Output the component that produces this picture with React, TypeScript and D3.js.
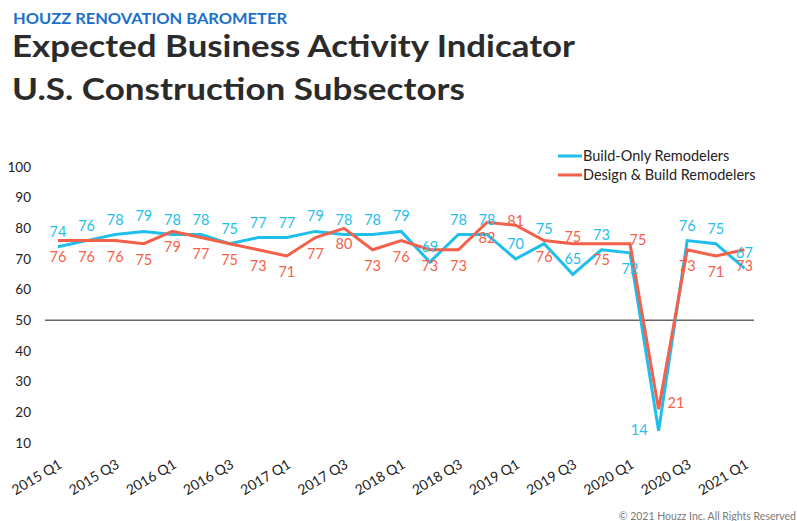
import React from "react";
import * as d3 from "d3";

const quarters = [
  "2015 Q1", "2015 Q2", "2015 Q3", "2015 Q4",
  "2016 Q1", "2016 Q2", "2016 Q3", "2016 Q4",
  "2017 Q1", "2017 Q2", "2017 Q3", "2017 Q4",
  "2018 Q1", "2018 Q2", "2018 Q3", "2018 Q4",
  "2019 Q1", "2019 Q2", "2019 Q3", "2019 Q4",
  "2020 Q1", "2020 Q2", "2020 Q3", "2020 Q4",
  "2021 Q1",
];
const buildOnly = [74, 76, 78, 79, 78, 78, 75, 77, 77, 79, 78, 78, 79, 69, 78, 78, 70, 75, 65, 73, 72, 14, 76, 75, 67];
const designBuild = [76, 76, 76, 75, 79, 77, 75, 73, 71, 77, 80, 73, 76, 73, 73, 82, 81, 76, 75, 75, 75, 21, 73, 71, 73];
const yTicks = [10, 20, 30, 40, 50, 60, 70, 80, 90, 100];
const xTickLabels = quarters.filter((_, i) => i % 2 === 0);

// label placement (style only)
const bluePlace = buildOnly.map((_, i) => (i === 20 ? "below" : i === 21 ? "left" : "above"));
const redPlace = designBuild.map((_, i) =>
  i === 16 ? "on" : i === 18 ? "aboveNear" : i === 20 ? "aboveRight" : i === 21 ? "right" : "below"
);

const BLUE = "#1fbeeb";
const RED = "#f4614a";
const FONT = "Lato, 'Open Sans', sans-serif";

function offset(p: string): [number, number] {
  switch (p) {
    case "above": return [0, -15];
    case "below": return [0, 16];
    case "left": return [-11, -1];
    case "right": return [9, -6];
    case "on": return [0, -4];
    case "aboveNear": return [0, -7];
    case "aboveRight": return [8, -4];
    default: return [0, 0];
  }
}

export default function App() {
  const W = 797, H = 521;
  const x = d3.scalePoint<string>().domain(quarters).range([58, 744.4]);
  const y = d3.scaleLinear().domain([10, 100]).range([443, 167]);
  const line = d3.line<number>().x((_, i) => x(quarters[i])!).y((d) => y(d));

  return (
    <svg width={W} height={H} style={{ position: "absolute", left: 0, top: 0, background: "#fff" }} fontFamily={FONT}>
      <text x={13} y={24} fontSize={15} fontWeight={700} fill="#1b6fc9" textLength={274} lengthAdjust="spacingAndGlyphs">HOUZZ RENOVATION BAROMETER</text>
      <text x={12} y={57} fontSize={31} fontWeight={700} fill="#2b2b2b" textLength={563} lengthAdjust="spacingAndGlyphs">Expected Business Activity Indicator</text>
      <text x={12} y={100} fontSize={31} fontWeight={700} fill="#2b2b2b" textLength={453} lengthAdjust="spacingAndGlyphs">U.S. Construction Subsectors</text>

      {yTicks.map((t) => (
        <text key={t} x={31} y={y(t)} dy="0.35em" textAnchor="end" fontSize={13.5} fill="#222">{t}</text>
      ))}

      <line x1={45} x2={754} y1={y(50)} y2={y(50)} stroke="#666" strokeWidth={1.5} />

      <path d={line(buildOnly)!} fill="none" stroke={BLUE} strokeWidth={3} strokeLinejoin="miter" />
      <path d={line(designBuild)!} fill="none" stroke={RED} strokeWidth={3} strokeLinejoin="miter" />

      {buildOnly.map((v, i) => {
        const [dx, dy] = offset(bluePlace[i]);
        const p = bluePlace[i];
        return (
          <text key={"b" + i} x={x(quarters[i])! + dx} y={y(v) + dy} dy="0.35em"
            textAnchor={p === "left" ? "end" : p === "right" ? "start" : "middle"}
            fontSize={14.5} fill={BLUE}>{v}</text>
        );
      })}
      {designBuild.map((v, i) => {
        const [dx, dy] = offset(redPlace[i]);
        const p = redPlace[i];
        return (
          <text key={"r" + i} x={x(quarters[i])! + dx} y={y(v) + dy} dy="0.35em"
            textAnchor={p === "left" ? "end" : p === "right" ? "start" : "middle"}
            fontSize={14.5} fill={RED}>{v}</text>
        );
      })}

      {xTickLabels.map((q) => (
        <text key={q} transform={`translate(${x(q)! + 5},467) rotate(-31)`} textAnchor="end" fontSize={14} fill="#222">{q}</text>
      ))}

      <line x1={558} x2={582} y1={156} y2={156} stroke={BLUE} strokeWidth={3} />
      <text x={583} y={156} dy="0.35em" fontSize={14.5} fill="#222">Build-Only Remodelers</text>
      <line x1={558} x2={582} y1={175} y2={175} stroke={RED} strokeWidth={3} />
      <text x={583} y={175} dy="0.35em" fontSize={14.5} fill="#222">Design &amp; Build Remodelers</text>

      <text x={796} y={520} textAnchor="end" fontSize={10.5} fill="#7a7a7a">© 2021 Houzz Inc. All Rights Reserved</text>
    </svg>
  );
}
